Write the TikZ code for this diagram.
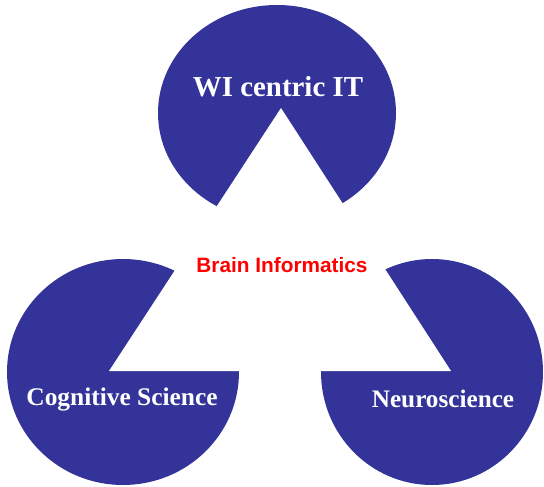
\documentclass[tikz,border=0pt]{standalone}
\usepackage{fontspec}
\setmainfont{Liberation Serif}
\newfontfamily\arialfont{Liberation Sans}
\definecolor{navy}{RGB}{51,51,153}
\definecolor{brainred}{RGB}{255,0,0}
\tikzset{
  disc/.style={fill=navy},
  cut/.style={fill=white},
  disclabel/.style={text=white, font=\bfseries, inner sep=0pt, anchor=base},
  centrallabel/.style={text=brainred, font=\arialfont\bfseries\fontsize{20.8}{24}\selectfont, inner sep=0pt, anchor=base}
}
\begin{document}
\begin{tikzpicture}[x=1pt,y=-1pt]
\useasboundingbox (0,0) rectangle (544,487);
% discs
\fill[disc] (277,113) ellipse [x radius=119pt, y radius=108pt];
\fill[disc] (123,372) ellipse [x radius=116pt, y radius=113pt];
\fill[disc] (432,372) ellipse [x radius=111pt, y radius=113pt];
% white triangle
\coordinate (A) at (281,108);
\coordinate (B) at (109,371);
\coordinate (C) at (451,371);
\fill[cut] (A) -- (B) -- (C) -- cycle;
% labels
\node[disclabel, font=\bfseries\fontsize{28.9}{32}\selectfont] (wi) at (278,96) {WI centric IT};
\node[disclabel, font=\bfseries\fontsize{25.4}{28}\selectfont] (cog) at (122,405) {Cognitive Science};
\node[disclabel, font=\bfseries\fontsize{25.2}{28}\selectfont] (neuro) at (443,407) {Neuroscience};
\node[centrallabel] (brain) at (282,272) {Brain Informatics};
\end{tikzpicture}
\end{document}
